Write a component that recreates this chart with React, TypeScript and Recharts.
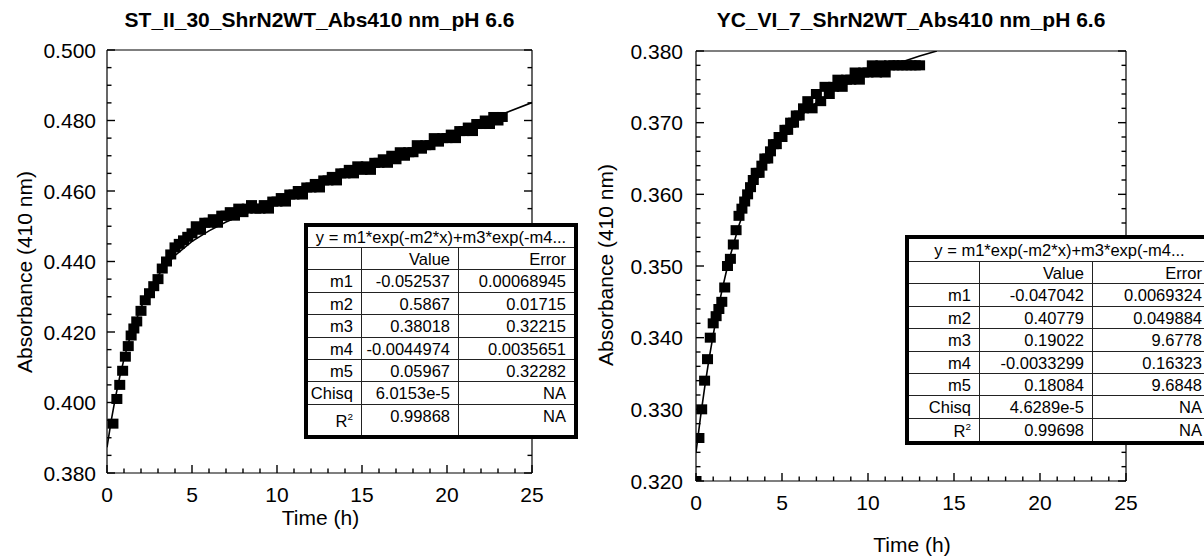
import React from "react";
import { Label, Scatter, ScatterChart, XAxis, YAxis } from "recharts";

const FONT = '"Liberation Sans", Arial, Helvetica, sans-serif';
const TICK_COLOR = "#000";

// ---- ST_II_30 (left panel) ----
const stTime = [
  0.35, 0.58, 0.75, 0.92, 1.08, 1.25, 1.42, 1.58, 1.75, 2.0, 2.25, 2.5, 2.75, 3.0, 3.25, 3.5, 3.75, 4.0, 4.25, 4.5,
  4.75, 5.0, 5.25, 5.5, 5.75, 6.0, 6.25, 6.5, 6.75, 7.0, 7.25, 7.5, 7.75, 8.0, 8.25, 8.5, 8.75, 9.0, 9.25, 9.5, 9.75,
  10.0, 10.25, 10.5, 10.75, 11.0, 11.25, 11.5, 11.75, 12.0, 12.25, 12.5, 12.75, 13.0, 13.25, 13.5, 13.75, 14.0, 14.25,
  14.5, 14.75, 15.0, 15.25, 15.5, 15.75, 16.0, 16.25, 16.5, 16.75, 17.0, 17.25, 17.5, 17.75, 18.0, 18.25, 18.5, 18.75,
  19.0, 19.25, 19.5, 19.75, 20.0, 20.25, 20.5, 20.75, 21.0, 21.25, 21.5, 21.75, 22.0, 22.25, 22.5, 22.75, 23.0, 23.25
];
const stAbs = [
  0.394, 0.401, 0.405, 0.409, 0.413, 0.416, 0.419, 0.421, 0.423, 0.426, 0.429, 0.431, 0.433, 0.435, 0.438, 0.44, 0.442,
  0.444, 0.445, 0.446, 0.447, 0.448, 0.45, 0.449, 0.451, 0.451, 0.452, 0.451, 0.453, 0.453, 0.454, 0.453, 0.455, 0.454,
  0.455, 0.456, 0.455, 0.455, 0.456, 0.455, 0.457, 0.457, 0.458, 0.457, 0.459, 0.459, 0.46, 0.459, 0.461, 0.461, 0.462,
  0.461, 0.463, 0.463, 0.464, 0.463, 0.465, 0.465, 0.466, 0.465, 0.467, 0.466, 0.467, 0.466, 0.468, 0.468, 0.469, 0.468,
  0.47, 0.469, 0.471, 0.47, 0.471, 0.471, 0.473, 0.472, 0.473, 0.473, 0.475, 0.474, 0.475, 0.475, 0.476, 0.475, 0.477,
  0.477, 0.478, 0.477, 0.479, 0.479, 0.48, 0.479, 0.481, 0.48, 0.481
];
const stFitTime = [0, 0.25, 0.5, 0.75, 1, 1.25, 1.5, 2, 2.5, 3, 3.5, 4, 5, 6, 7, 8, 10, 12, 14, 16, 18, 20, 22, 25];
const stFitAbs = [
  0.3873, 0.3949, 0.4015, 0.4073, 0.4123, 0.4168, 0.4206, 0.427, 0.432, 0.436, 0.4391, 0.4417, 0.4457, 0.4487, 0.4512,
  0.4533, 0.4572, 0.4609, 0.4645, 0.4682, 0.4719, 0.4756, 0.4794, 0.4851
];
const stYMajor = [0.38, 0.4, 0.42, 0.44, 0.46, 0.48, 0.5];
const stYMinor = [0.385, 0.39, 0.395, 0.405, 0.41, 0.415, 0.425, 0.43, 0.435, 0.445, 0.45, 0.455, 0.465, 0.47, 0.475, 0.485, 0.49, 0.495];

// ---- YC_VI_7 (right panel) ----
const ycTime = [
  0, 0.17, 0.33, 0.5, 0.67, 0.83, 1.0, 1.17, 1.33, 1.5, 1.67, 1.83, 2.0, 2.17, 2.33, 2.5, 2.67, 2.83, 3.0, 3.17, 3.33,
  3.5, 3.67, 3.83, 4.0, 4.17, 4.33, 4.5, 4.67, 4.83, 5.0, 5.17, 5.33, 5.5, 5.67, 5.83, 6.0, 6.25, 6.5, 6.75, 7.0, 7.25,
  7.5, 7.75, 8.0, 8.25, 8.5, 8.75, 9.0, 9.25, 9.5, 9.75, 10.0, 10.25, 10.5, 10.75, 11.0, 11.25, 11.5, 11.75, 12.0,
  12.25, 12.5, 12.75, 13.0
];
const ycAbs = [
  0.32, 0.326, 0.33, 0.334, 0.337, 0.34, 0.342, 0.343, 0.344, 0.345, 0.347, 0.35, 0.351, 0.353, 0.355, 0.357, 0.358,
  0.359, 0.36, 0.361, 0.362, 0.363, 0.363, 0.364, 0.365, 0.365, 0.366, 0.367, 0.367, 0.368, 0.368, 0.369, 0.369, 0.37,
  0.37, 0.371, 0.371, 0.372, 0.373, 0.372, 0.374, 0.373, 0.375, 0.374, 0.375, 0.376, 0.375, 0.376, 0.376, 0.377, 0.376,
  0.377, 0.377, 0.378, 0.377, 0.378, 0.377, 0.378, 0.378, 0.378, 0.378, 0.378, 0.378, 0.378, 0.378
];
const ycFitTime = [0, 0.25, 0.5, 0.75, 1, 1.25, 1.5, 1.75, 2, 2.5, 3, 4, 5, 6, 7, 8, 9, 10, 11, 12, 13, 14];
const ycFitAbs = [
  0.324, 0.3287, 0.333, 0.3369, 0.3404, 0.3436, 0.3465, 0.3491, 0.3515, 0.3557, 0.3591, 0.3644, 0.3681, 0.3708,
  0.3728, 0.3744, 0.3757, 0.3767, 0.3776, 0.3785, 0.3793, 0.38
];
const ycYMajor = [0.32, 0.33, 0.34, 0.35, 0.36, 0.37, 0.38];
const ycYMinor = [
  0.322, 0.324, 0.326, 0.328, 0.332, 0.334, 0.336, 0.338, 0.342, 0.344, 0.346, 0.348, 0.352, 0.354, 0.356, 0.358,
  0.362, 0.364, 0.366, 0.368, 0.372, 0.374, 0.376, 0.378
];

const xMajor = [0, 5, 10, 15, 20, 25];
const xAll = [0, 1, 2, 3, 4, 5, 6, 7, 8, 9, 10, 11, 12, 13, 14, 15, 16, 17, 18, 19, 20, 21, 22, 23, 24, 25];

// fit tables
const rowNames = ["m1", "m2", "m3", "m4", "m5", "Chisq", "R²"];
const stValue = ["-0.052537", "0.5867", "0.38018", "-0.0044974", "0.05967", "6.0153e-5", "0.99868"];
const stError = ["0.00068945", "0.01715", "0.32215", "0.0035651", "0.32282", "NA", "NA"];
const ycValue = ["-0.047042", "0.40779", "0.19022", "-0.0033299", "0.18084", "4.6289e-5", "0.99698"];
const ycError = ["0.0069324", "0.049884", "9.6778", "0.16323", "9.6848", "NA", "NA"];
const fitEquation = "y = m1*exp(-m2*x)+m3*exp(-m4...";

const zip = (t: number[], a: number[]) => t.map((v, i) => ({ t: v, a: a[i] }));

const isIn = (list: number[], v: number) => list.some((m) => Math.abs(m - v) < 1e-9);

// inward tick marks (longer at majors), labels only on the left / bottom axes
function makeTick(side: "left" | "right" | "top" | "bottom", majors: number[], decimals: number, labelOffset: number) {
  return (props: any) => {
    const x = Number(props.x);
    const y = Number(props.y);
    const v = Number(props.payload?.value);
    const major = isIn(majors, v);
    const len = major ? 8 : 4.5;
    const ls = { stroke: TICK_COLOR, strokeWidth: 1.4 };
    let line: React.ReactNode = null;
    let text: React.ReactNode = null;
    if (side === "left") {
      line = <path d={`M${x},${y}H${x + len}`} style={ls} />;
      if (major)
        text = (
          <text x={x - labelOffset} y={y} dy="0.36em" textAnchor="end" fontSize={21} fontFamily={FONT} fill="#000">
            {v.toFixed(decimals)}
          </text>
        );
    } else if (side === "right") {
      line = <path d={`M${x},${y}H${x - len}`} style={ls} />;
    } else if (side === "top") {
      line = <path d={`M${x},${y}V${y + len}`} style={ls} />;
    } else {
      line = <path d={`M${x},${y}V${y - len}`} style={ls} />;
      if (major)
        text = (
          <text x={x} y={y + labelOffset} textAnchor="middle" fontSize={21} fontFamily={FONT} fill="#000">
            {v.toFixed(decimals)}
          </text>
        );
    }
    return (
      <g>
        {line}
        {text}
      </g>
    );
  };
}

const SquareDot = (props: any) => <rect x={props.cx - 5.5} y={props.cy - 5} width={11} height={10} fill="#000" />;
const NoDot = () => <g />;

type PanelProps = {
  left: number;
  width: number;
  title: string;
  plot: { left: number; right: number; top: number; bottom: number };
  yDomain: [number, number];
  yMajor: number[];
  yMinor: number[];
  data: { t: number; a: number }[];
  fit: { t: number; a: number }[];
  yTickGap: number;
  yLabelX: number;
  yLabelY: number;
  xLabelDy: number;
};

function Panel(p: PanelProps) {
  const yTicks = [...p.yMajor, ...p.yMinor].sort((a, b) => a - b);
  const margin = {
    left: p.plot.left - 60,
    right: p.width - p.plot.right - 1,
    top: p.plot.top - 1,
    bottom: 556 - p.plot.bottom - 70
  };
  const axisStroke = { stroke: "#000", strokeWidth: 1.2 };
  return (
    <div style={{ position: "absolute", left: p.left, top: 0 }}>
      <div
        style={{
          position: "absolute",
          left: 0,
          width: p.plot.left + p.plot.right,
          top: 8,
          textAlign: "center",
          fontFamily: FONT,
          fontWeight: "bold",
          fontSize: 21,
          lineHeight: "24px",
          whiteSpace: "nowrap"
        }}
      >
        {p.title}
      </div>
      <ScatterChart width={p.width} height={556} margin={margin}>
        <XAxis
          xAxisId="b"
          dataKey="t"
          type="number"
          domain={[0, 25]}
          ticks={xAll}
          interval={0}
          height={70}
          tickSize={0}
          tickMargin={0}
          tickLine={false}
          axisLine={axisStroke}
          tick={makeTick("bottom", xMajor, 0, 28.5)}
          allowDataOverflow
        >
          <Label
            content={(lp: any) => {
              const vb = lp.viewBox || { x: 0, y: 0, width: 0 };
              return (
                <text
                  x={vb.x + vb.width / 2 + 1}
                  y={vb.y + p.xLabelDy}
                  textAnchor="middle"
                  fontSize={21}
                  fontFamily={FONT}
                  fill="#000"
                >
                  Time (h)
                </text>
              );
            }}
          />
        </XAxis>
        <XAxis
          xAxisId="t"
          orientation="top"
          type="number"
          domain={[0, 25]}
          ticks={xAll}
          interval={0}
          height={1}
          tickSize={0}
          tickMargin={0}
          tickLine={false}
          axisLine={axisStroke}
          tick={makeTick("top", xMajor, 0, 0)}
          allowDataOverflow
        />
        <YAxis
          yAxisId="l"
          dataKey="a"
          type="number"
          domain={p.yDomain}
          ticks={yTicks}
          interval={0}
          width={60}
          tickSize={0}
          tickMargin={0}
          tickLine={false}
          axisLine={axisStroke}
          tick={makeTick("left", p.yMajor, 3, p.yTickGap)}
          allowDataOverflow
        >
          <Label
            content={() => (
              <text
                x={0}
                y={0}
                transform={`translate(${p.yLabelX}, ${p.yLabelY}) rotate(-90)`}
                textAnchor="middle"
                dy="0.36em"
                fontSize={21}
                fontFamily={FONT}
                fill="#000"
              >
                Absorbance (410 nm)
              </text>
            )}
          />
        </YAxis>
        <YAxis
          yAxisId="r"
          orientation="right"
          type="number"
          domain={p.yDomain}
          ticks={yTicks}
          interval={0}
          width={1}
          tickSize={0}
          tickMargin={0}
          tickLine={false}
          axisLine={axisStroke}
          tick={makeTick("right", p.yMajor, 3, 0)}
          allowDataOverflow
        />
        <Scatter xAxisId="b" yAxisId="l" data={p.data} dataKey="a" shape={SquareDot} isAnimationActive={false} />
        <Scatter
          xAxisId="b"
          yAxisId="l"
          data={p.fit}
          dataKey="a"
          shape={NoDot}
          line={{ stroke: "#000", strokeWidth: 1.6 }}
          isAnimationActive={false}
        />
      </ScatterChart>
    </div>
  );
}

type TableProps = {
  left: number;
  top: number;
  cols: number[];
  headH: number;
  rowH: number;
  lastH: number;
  fontSize: number;
  values: string[];
  errors: string[];
};

function FitTable(p: TableProps) {
  const cell = (w: number, last: boolean, pad: number): React.CSSProperties => ({
    width: w,
    flex: "none",
    boxSizing: "border-box",
    borderRight: last ? "none" : "1px solid #222",
    textAlign: "right",
    paddingRight: pad,
    whiteSpace: "nowrap",
    overflow: "visible"
  });
  const rows = [["", "Value", "Error"], ...rowNames.map((n, i) => [n, p.values[i], p.errors[i]])];
  return (
    <div
      style={{
        position: "absolute",
        left: p.left,
        top: p.top,
        border: "4px solid #000",
        background: "#fff",
        fontFamily: FONT,
        fontSize: p.fontSize,
        color: "#000",
        width: p.cols[0] + p.cols[1] + p.cols[2]
      }}
    >
      <div
        style={{
          height: p.headH,
          lineHeight: `${p.headH}px`,
          textAlign: "center",
          borderBottom: "1px solid #222",
          boxSizing: "border-box",
          whiteSpace: "nowrap",
          overflow: "hidden"
        }}
      >
        {fitEquation}
      </div>
      {rows.map((r, i) => {
        const isLast = i === rows.length - 1;
        const h = isLast ? p.lastH : p.rowH;
        return (
          <div
            key={i}
            style={{
              display: "flex",
              height: h,
              lineHeight: `${p.rowH}px`,
              borderBottom: isLast ? "none" : "1px solid #222",
              boxSizing: "border-box"
            }}
          >
            <div style={{ ...cell(p.cols[0], false, 8), lineHeight: isLast ? `${h + 2}px` : undefined }}>
              {r[0] === "R²" ? (
                <span>
                  R<sup style={{ fontSize: "0.6em", verticalAlign: "0.7em", lineHeight: 0 }}>2</sup>
                </span>
              ) : (
                r[0]
              )}
            </div>
            <div style={cell(p.cols[1], false, 8)}>{r[1]}</div>
            <div style={cell(p.cols[2], true, 8)}>{r[2]}</div>
          </div>
        );
      })}
    </div>
  );
}

export default function App() {
  return (
    <div
      style={{
        position: "absolute",
        left: 0,
        top: 0,
        width: 1204,
        height: 556,
        overflow: "hidden",
        background: "#fff"
      }}
    >
      <Panel
        left={0}
        width={590}
        title="ST_II_30_ShrN2WT_Abs410 nm_pH 6.6"
        plot={{ left: 107, right: 532, top: 50, bottom: 473 }}
        yDomain={[0.38, 0.5]}
        yMajor={stYMajor}
        yMinor={stYMinor}
        data={zip(stTime, stAbs)}
        fit={zip(stFitTime, stFitAbs)}
        yTickGap={11}
        yLabelX={24}
        yLabelY={272}
        xLabelDy={52}
      />
      <Panel
        left={590}
        width={614}
        title="YC_VI_7_ShrN2WT_Abs410 nm_pH 6.6"
        plot={{ left: 106, right: 536, top: 51, bottom: 481 }}
        yDomain={[0.32, 0.38]}
        yMajor={ycYMajor}
        yMinor={ycYMinor}
        data={zip(ycTime, ycAbs)}
        fit={zip(ycFitTime, ycFitAbs)}
        yTickGap={13}
        yLabelX={15}
        yLabelY={265}
        xLabelDy={71}
      />
      <FitTable
        left={304}
        top={223}
        cols={[54, 97, 115]}
        headH={21}
        rowH={22.4}
        lastH={30}
        fontSize={16.5}
        values={stValue}
        errors={stError}
      />
      <FitTable
        left={905}
        top={235}
        cols={[71, 113, 117]}
        headH={23}
        rowH={22.4}
        lastH={22.5}
        fontSize={16.5}
        values={ycValue}
        errors={ycError}
      />
    </div>
  );
}
